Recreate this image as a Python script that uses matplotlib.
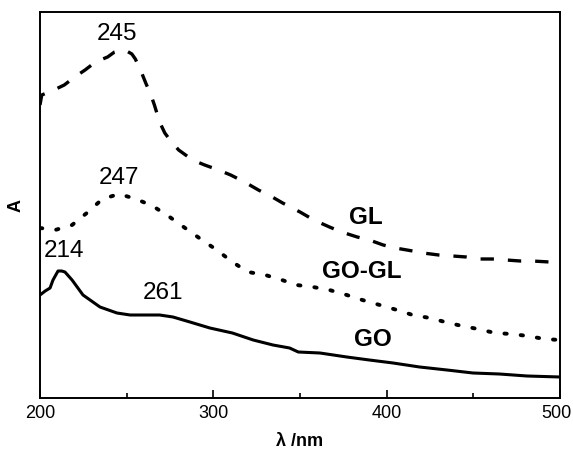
import matplotlib
matplotlib.use("Agg")
import matplotlib.pyplot as plt
from matplotlib.ticker import MultipleLocator, NullLocator
from matplotlib.transforms import ScaledTranslation

plt.rcParams['font.family'] = ['Liberation Sans', 'DejaVu Sans']

# Data (wavelength in nm, absorbance in arbitrary units)
gl_x = [200, 201, 208, 214, 220, 226, 232, 239, 243, 247, 250, 253, 255, 258, 261,
        264, 266, 269, 272, 275, 280, 288, 295, 303, 310, 318, 326, 334, 340, 350,
        358, 367, 374, 383, 390, 398, 405, 415, 421, 430, 438, 446, 454, 461, 469,
        477, 484, 494, 500]
gl_y = [293, 303, 308, 313, 321, 328, 336, 341, 346, 348, 347, 344, 339, 328, 315,
        303, 293, 276, 265, 258, 248, 238, 233, 228, 223, 216, 208, 201, 195, 186,
        178, 171, 166, 161, 158, 153, 150, 147, 145, 143, 142, 141, 139, 139, 138,
        137, 137, 136, 136]

gogl_x = [200, 208.7, 218.5, 227, 236, 245.6, 255.4, 265, 274, 283.7, 293.5, 302,
          311, 320, 330, 339.6, 348, 357.5, 367, 377, 386, 396, 406, 415, 425,
          433.7, 443.5, 452.7, 462.5, 472, 481.5, 491, 500]
gogl_y = [170, 168, 173, 185, 199, 204, 199, 192, 182, 170, 158, 148, 136, 126, 123,
          118, 113, 111, 108, 103, 98, 93, 88, 83, 80, 76, 72, 69, 65, 64, 62, 59, 58]

go_x = [200, 203, 205.8, 207.5, 210.4, 212.5, 214.4, 218.5, 224.8, 234.6, 244.4, 252,
        261.7, 269, 276.7, 286.5, 298, 311, 323, 334.4, 344, 349, 361.5, 377, 390,
        403.7, 419, 434.8, 449.8, 465, 481, 500]
go_y = [103, 107, 110, 118, 127, 127, 126, 118, 103, 91, 85, 83,
        83, 83, 81, 76, 70, 65, 58, 53, 50, 46, 45, 41, 38,
        35, 31, 28, 25, 24, 22, 21]

xticks = [200, 300, 400, 500]

W, H = 573, 455
fig = plt.figure(figsize=(W / 100, H / 100), dpi=100)
ax = fig.add_axes([40 / W, (H - 398) / H, 520 / W, 386 / H])

ax.plot(gl_x, gl_y, color='black', lw=2.4, ls=(0, (4.0, 4.2)), dash_capstyle='butt')
ax.plot(gogl_x, gogl_y, color='black', lw=2.8, ls=(0, (0.6, 3.6)), dash_capstyle='round')
ax.plot(go_x, go_y, color='black', lw=2.2)

ax.set_xlim(200, 500)
ax.set_ylim(0, 386)
ax.set_xticks(xticks)
ax.set_xticklabels([str(t) for t in xticks], fontsize=13)
ax.xaxis.set_minor_locator(MultipleLocator(50))
ax.yaxis.set_major_locator(NullLocator())
ax.tick_params(axis='x', which='major', direction='in', length=6, width=1.2, pad=5)
ax.tick_params(axis='x', which='minor', direction='in', length=3.5, width=1.2)
for s in ax.spines.values():
    s.set_linewidth(1.4)

# nudge the last tick label slightly left so it stays inside the canvas
lbls = ax.get_xticklabels()
lbls[-1].set_transform(lbls[-1].get_transform() + ScaledTranslation(-0.04, 0, fig.dpi_scale_trans))

ax.set_xlabel('λ /nm', fontsize=13, fontweight='bold', labelpad=8)
ax.set_ylabel('A', fontsize=13, fontweight='bold', labelpad=11)

ax.text(244.4, 364, '245', fontsize=17.5, ha='center', va='center')
ax.text(245.6, 220, '247', fontsize=17.5, ha='center', va='center')
ax.text(213.8, 147, '214', fontsize=17.5, ha='center', va='center')
ax.text(271, 105, '261', fontsize=17.5, ha='center', va='center')
ax.text(388, 181, 'GL', fontsize=17.5, fontweight='bold', ha='center', va='center')
ax.text(385.8, 126, 'GO-GL', fontsize=17.5, fontweight='bold', ha='center', va='center')
ax.text(392, 58, 'GO', fontsize=17.5, fontweight='bold', ha='center', va='center')

fig.savefig('out.png', dpi=100)
